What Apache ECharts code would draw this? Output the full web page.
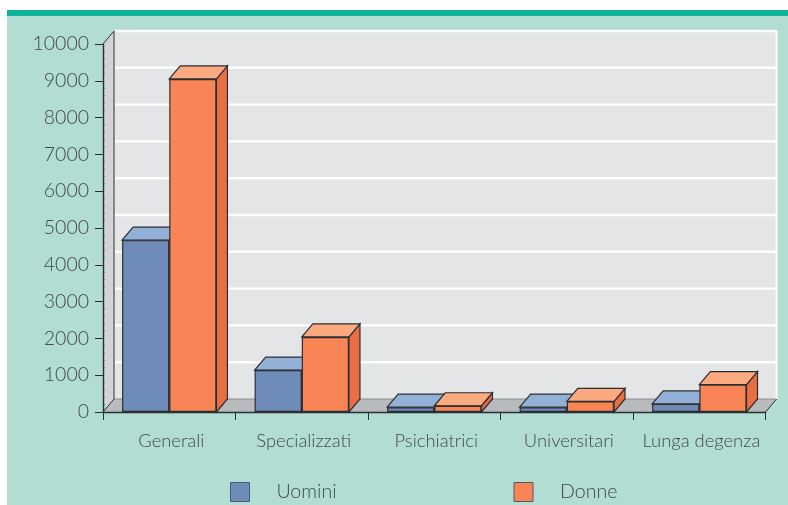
<!DOCTYPE html>
<html>
<head>
<meta charset="utf-8">
<style>html,body{margin:0;padding:0;background:#fff}#c{width:788px;height:505px}</style>
<script src="https://cdn.jsdelivr.net/npm/echarts@6/dist/echarts.min.js"></script>
</head>
<body>
<div id="c"></div>
<script>
var categories = ['Generali', 'Specializzati', 'Psichiatrici', 'Universitari', 'Lunga degenza'];
var uomini = [4670, 1140, 130, 130, 220];
var donne = [9050, 2040, 170, 290, 745];
var yTicks = [1000, 2000, 3000, 4000, 5000, 6000, 7000, 8000, 9000, 10000];

var DX = 11, DY = -13;
var BAR_FRAC = 47.2 / 132.6;
var EDGE = '#2b2f33';
var TEXT = '#434948';
var chart = echarts.init(document.getElementById('c'), null, {renderer: 'canvas'});

function poly(points, fill, stroke, lw) {
  return {type: 'polygon', shape: {points: points},
    style: {fill: fill, stroke: stroke || null, lineWidth: lw || 1}};
}
function seg(x1, y1, x2, y2, color, lw) {
  return {type: 'line', shape: {x1: x1, y1: y1, x2: x2, y2: y2}, style: {stroke: color, lineWidth: lw}};
}

function wallItem(params, api) {
  var rect = params.coordSys;
  var x0 = rect.x, x1 = rect.x + rect.width;
  var y0 = rect.y + rect.height, yT = rect.y;
  var children = [];
  if (params.dataIndex === 0) {
    children.push(poly([[x0 + DX, y0 + DY], [x1 + DX, y0 + DY], [x1 + DX, yT + DY], [x0 + DX, yT + DY]], '#e4e5e7'));
    children.push(poly([[x0, y0], [x0 + DX, y0 + DY], [x0 + DX, yT + DY], [x0, yT]], '#d3d4d6'));
    children.push(poly([[x0, y0], [x0 + DX, y0 + DY], [x1 + DX, y0 + DY], [x1, y0]], '#b9babd'));
    children.push(seg(x0 + DX, y0 + DY, x1 + DX, y0 + DY, '#8a8c8f', 1));
    children.push(seg(x0, y0, x0 + DX, y0 + DY, EDGE, 1));
    children.push(seg(x1, y0, x1 + DX, y0 + DY, EDGE, 1));
    children.push(seg(x0, yT, x0 + DX, yT + DY, EDGE, 1));
    children.push(seg(x1 + DX, yT + DY, x1 + DX, y0 + DY, '#ffffff', 2));
    children.push(seg(x0 + DX, yT + DY, x0 + DX, y0 + DY, '#6f7173', 1.6));
  }
  var v = api.value(0);
  var y = api.coord([0, v])[1];
  children.push(seg(x0 + DX + 1, y + DY, x1 + DX, y + DY, '#ffffff', 2.4));
  for (var k = 1; k < 5; k++) {
    var my = api.coord([0, v - k * 200])[1];
    children.push(seg(x0, my, x0 + 2.5, my, '#9b9d9f', 1));
  }
  return {type: 'group', children: children};
}

function extrude(side, topColor, sideColor) {
  return function (params, api) {
    var c = api.coord([api.value(0), api.value(1)]);
    var w = api.size([1, 0])[0] * BAR_FRAC;
    var l = side < 0 ? c[0] - w : c[0];
    var r = l + w, t = c[1];
    var b = api.coord([api.value(0), 0])[1];
    return {type: 'group', children: [
      poly([[r, b], [r + DX, b + DY], [r + DX, t + DY], [r, t]], sideColor, EDGE, 1.2),
      poly([[l, t], [l + DX, t + DY], [r + DX, t + DY], [r, t]], topColor, EDGE, 1.2)
    ]};
  };
}

function pairs(values) {
  return values.map(function (v, i) { return [i, v]; });
}

chart.setOption({
  animation: false,
  backgroundColor: '#ffffff',
  textStyle: {fontFamily: 'Lato', fontWeight: 300},
  graphic: [
    {type: 'rect', z: -10, shape: {x: 7, y: 16, width: 781, height: 489}, style: {fill: '#b1ddd3'}},
    {type: 'rect', z: -10, shape: {x: 7, y: 10, width: 781, height: 6}, style: {fill: '#0cb399'}}
  ],
  grid: {left: 103, right: 22.4, top: 44, bottom: 93, containLabel: false},
  legend: {
    left: 225, top: 477, itemWidth: 19, itemHeight: 19, itemGap: 177, icon: 'rect',
    data: ['Uomini', 'Donne'],
    itemStyle: {borderColor: '#4f5a66', borderWidth: 1},
    textStyle: {fontFamily: 'Lato', fontWeight: 300, fontSize: 19.6, color: TEXT, padding: [0, 0, 0, 22]}
  },
  xAxis: {
    type: 'category', data: categories, z: 5,
    axisLine: {lineStyle: {color: '#2b2f33', width: 1.4}},
    axisTick: {show: true, length: 8, alignWithLabel: false, lineStyle: {color: '#2b2f33'}},
    axisLabel: {margin: 20, interval: 0, fontSize: 18.4, fontFamily: 'Lato', fontWeight: 300, color: TEXT, padding: [0, 0, 0, 4]},
    splitLine: {show: false}
  },
  yAxis: {
    type: 'value', min: 0, max: 10000, interval: 1000, z: 5,
    axisLine: {show: true, lineStyle: {color: '#2b2f33', width: 1.4}},
    axisTick: {show: true, length: 8, lineStyle: {color: '#2b2f33'}},
    axisLabel: {margin: 14, fontSize: 19.5, fontFamily: 'Lato', fontWeight: 300, color: TEXT, padding: [2, 0, 0, 0],
      formatter: function (v) { return String(v); }},
    splitLine: {show: false}
  },
  series: [
    {type: 'custom', name: 'wall', z: 0, silent: true, coordinateSystem: 'cartesian2d',
      renderItem: wallItem, data: yTicks.map(function (v) { return [v]; }),
      encode: {y: 0}, clip: false},
    {type: 'custom', name: 'uomini3d', z: 1, silent: true, renderItem: extrude(-1, '#93b1d6', '#5f7ba5'),
      data: pairs(uomini), encode: {x: 0, y: 1}, clip: false},
    {type: 'custom', name: 'donne3d', z: 1, silent: true, renderItem: extrude(1, '#fba97f', '#e96e42'),
      data: pairs(donne), encode: {x: 0, y: 1}, clip: false},
    {type: 'bar', name: 'Uomini', data: uomini, barWidth: '35.6%', barGap: 0, z: 2,
      itemStyle: {color: '#6f8cb8', borderColor: EDGE, borderWidth: 1.2}},
    {type: 'bar', name: 'Donne', data: donne, barWidth: '35.6%', barGap: 0, z: 2,
      itemStyle: {color: '#f98556', borderColor: EDGE, borderWidth: 1.2}}
  ]
});
</script>
</body>
</html>
